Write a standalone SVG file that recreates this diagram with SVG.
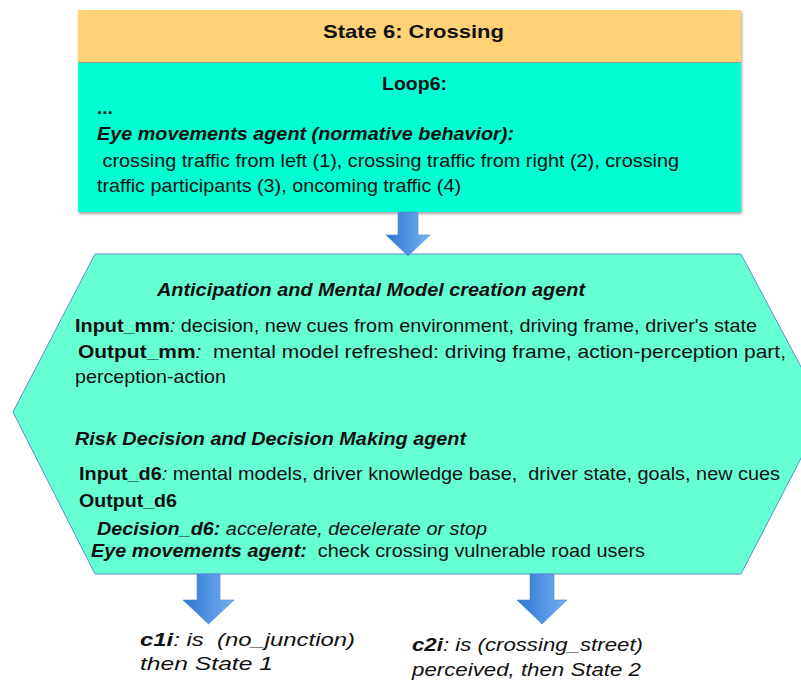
<svg xmlns="http://www.w3.org/2000/svg" width="801" height="683" viewBox="0 0 801 683">
  <defs>
    <linearGradient id="arrowFill" x1="0" y1="0" x2="1" y2="0">
      <stop offset="0" stop-color="#2f76d2"/>
      <stop offset="1" stop-color="#74b0f2"/>
    </linearGradient>
    <filter id="shadow" x="-5%" y="-5%" width="110%" height="115%">
      <feDropShadow dx="1" dy="2" stdDeviation="1.5" flood-color="#000" flood-opacity="0.35"/>
    </filter>
    <style>
      text { font-family: "Liberation Sans", Arial, sans-serif; font-size: 19px; fill: #111; }
      .b { font-weight: bold; }
      .i { font-style: italic; }
      .bi { font-weight: bold; font-style: italic; }
      .arrow { fill: url(#arrowFill); stroke: #4a88d0; stroke-width: 0.6; }
    </style>
  </defs>

  <!-- State 6 box: title band and loop body -->
  <g id="state6">
    <g filter="url(#shadow)">
      <rect x="78" y="10" width="663" height="202" fill="#00ffd2"/>
      <rect x="78" y="10" width="663" height="52" fill="#ffd278"/>
    </g>
    <line x1="78" y1="62.5" x2="741" y2="62.5" stroke="#999" stroke-width="1"/>
    <text class="b" x="323" y="38" font-size="22" textLength="181" lengthAdjust="spacingAndGlyphs">State 6: Crossing</text>
    <text class="b" x="382" y="90" font-size="20" textLength="65" lengthAdjust="spacingAndGlyphs">Loop6:</text>
    <text class="b" x="97" y="114">...</text>
    <text class="bi" x="97" y="140" textLength="417" lengthAdjust="spacingAndGlyphs">Eye movements agent (normative behavior):</text>
    <text x="97" y="167" textLength="582" lengthAdjust="spacingAndGlyphs" xml:space="preserve"> crossing traffic from left (1), crossing traffic from right (2), crossing</text>
    <text x="97" y="192" textLength="364" lengthAdjust="spacingAndGlyphs">traffic participants (3), oncoming traffic (4)</text>
  </g>

  <!-- Agents hexagon -->
  <g id="agents">
    <polygon points="95,254 741,254 825,412 741,574 95,574 13,412" fill="#66ffd4" stroke="#5a8fd0" stroke-width="1"/>
    <text class="bi" x="157" y="296" textLength="428" lengthAdjust="spacingAndGlyphs">Anticipation and Mental Model creation agent</text>
    <text x="75" y="332" textLength="682" lengthAdjust="spacingAndGlyphs"><tspan class="b">Input_mm</tspan><tspan class="i">:</tspan> decision, new cues from environment, driving frame, driver's state</text>
    <text x="78" y="358" textLength="708" lengthAdjust="spacingAndGlyphs" xml:space="preserve"><tspan class="b">Output_mm</tspan><tspan class="i">:</tspan>  mental model refreshed: driving frame, action-perception part,</text>
    <text x="75" y="383" textLength="151" lengthAdjust="spacingAndGlyphs">perception-action</text>
    <text class="bi" x="75" y="445" textLength="391" lengthAdjust="spacingAndGlyphs">Risk Decision and Decision Making agent</text>
    <text x="79" y="480" textLength="701" lengthAdjust="spacingAndGlyphs" xml:space="preserve"><tspan class="b">Input_d6</tspan><tspan class="i">:</tspan> mental models, driver knowledge base,  driver state, goals, new cues</text>
    <text class="b" x="79" y="507" textLength="98" lengthAdjust="spacingAndGlyphs">Output_d6</text>
    <text x="97" y="535" textLength="390" lengthAdjust="spacingAndGlyphs"><tspan class="bi">Decision_d6:</tspan><tspan class="i"> accelerate, decelerate or stop</tspan></text>
    <text x="91" y="557" textLength="554" lengthAdjust="spacingAndGlyphs" xml:space="preserve"><tspan class="bi">Eye movements agent:</tspan>  check crossing vulnerable road users</text>
  </g>

  <!-- Exit condition labels -->
  <g id="exit1">
    <text class="i" x="140" y="646" textLength="215" lengthAdjust="spacingAndGlyphs" xml:space="preserve"><tspan class="bi">c1i</tspan>: is  (no_junction)</text>
    <text class="i" x="140" y="670" textLength="133" lengthAdjust="spacingAndGlyphs">then State 1</text>
  </g>
  <g id="exit2">
    <text class="i" x="412" y="651" textLength="231" lengthAdjust="spacingAndGlyphs"><tspan class="bi">c2i</tspan>: is (crossing_street)</text>
    <text class="i" x="412" y="676" textLength="229" lengthAdjust="spacingAndGlyphs">perceived, then State 2</text>
  </g>

  <!-- Block arrows between stages -->
  <g id="connectors">
    <path class="arrow" d="M398,212 H418 V235 H430 L408,256 L386,235 H398 Z"/>
    <path class="arrow" d="M197,574 H220 V600 H234 L208.5,624 L183,600 H197 Z"/>
    <path class="arrow" d="M530,574 H554 V600 H567 L542,624 L517,600 H530 Z"/>
  </g>
</svg>
